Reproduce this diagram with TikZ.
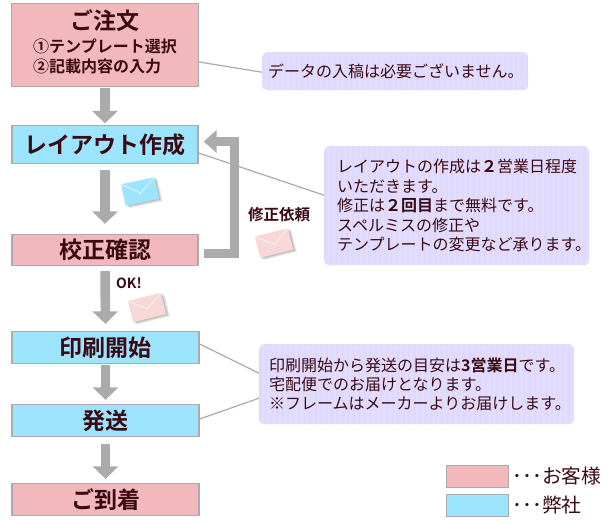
\documentclass[tikz,border=0pt]{standalone}
\usepackage{fontspec}
\setmainfont{Noto Sans CJK JP}
\newfontfamily\bfjp{Noto Sans CJK JP Bold}
\usetikzlibrary{arrows.meta,calc,positioning}
\definecolor{pinkbox}{HTML}{F2B8BB}
\definecolor{bluebox}{HTML}{9DE4FF}
\definecolor{edgegray}{HTML}{ABABAB}
\definecolor{inkdark}{HTML}{3A0A12}
\definecolor{callfill}{HTML}{E3DDFF}
\definecolor{callstripe}{HTML}{DFD9FE}
\definecolor{envpink}{HTML}{F8D7D9}
\newcommand{\mailicon}[4]{%
\begin{scope}[shift={(#1,#2)},rotate=#3]
 \foreach \o/\g in {0.07/3.2,0.09/2.2,0.11/1.2}{
  \fill[black,opacity=\o] (-17+\g,-11+\g) rectangle (17+\g,11+\g);}
 \fill[#4] (-17,-11) rectangle (17,11);
 \draw[white,line width=.7pt,opacity=.8] (-17,-11) -- (0,1.5) -- (17,-11);
\end{scope}}
\tikzset{
 x=1pt,y=-1pt,
 flowbox/.style={draw=edgegray,line width=1.3pt,text=inkdark,minimum width=#1,inner sep=0pt,font=\bfjp\fontsize{23}{26}\selectfont},
 flowbox/.default=186pt,
 callout/.style={rounded corners=5pt,fill=callfill,text=inkdark,anchor=north west,align=left,inner sep=0pt,
  path picture={\foreach \i in {0,...,56}{
    \fill[callstripe] ($(path picture bounding box.north west)+(\i*5.5,0)$) rectangle ++(2.6,140);}}},
 flow/.style={draw=edgegray,line width=9.5pt,-{Triangle[width=25pt,length=12.5pt]}},
 leader/.style={draw=edgegray,line width=1.2pt},
 legend/.style={draw=edgegray,line width=1pt,minimum width=62pt,minimum height=22pt,inner sep=0pt,anchor=north west},
 legendtext/.style={anchor=west,text=inkdark,inner sep=0pt,font=\fontsize{19.7}{21}\selectfont},
}
\begin{document}
\begin{tikzpicture}
\useasboundingbox (0,0) rectangle (610,523);
\fill[white] (0,0) rectangle (610,523);
% flow boxes
\node[flowbox=187pt,fill=pinkbox,minimum height=83pt,align=center] (order) at (105,45) {};
\node[text=inkdark,font=\bfjp\fontsize{23}{26}\selectfont] (ordertitle) at (105,21) {ご注文};
\node[text=inkdark,anchor=north,align=left,inner sep=0pt,font=\bfjp\fontsize{16}{20}\selectfont] (ordersub) at (105,39) {①テンプレート選択\\②記載内容の入力};
\node[flowbox,fill=bluebox,minimum height=38pt] (layout) at (105,144.5) {レイアウト作成};
\node[flowbox,fill=pinkbox,minimum height=31pt] (check) at (105,250) {校正確認};
\node[flowbox=187pt,fill=bluebox,minimum height=32pt] (print) at (105.5,347.5) {印刷開始};
\node[flowbox=187pt,fill=bluebox,minimum height=32pt] (ship) at (105.5,420.5) {発送};
\node[flowbox=187pt,fill=pinkbox,minimum height=32pt] (arrive) at (105.5,499.5) {ご到着};
% callouts
\node[callout,minimum width=266pt,minimum height=38pt,text width=266pt] (note1) at (262,52)
 {\hspace*{6pt}\fontsize{16}{19}\selectfont データの入稿は必要ございません。};
\node[callout,minimum width=265pt,minimum height=119pt] (note2) at (324,146)
 {\begin{minipage}[c][119pt][c]{265pt}\leftskip=13pt\fontsize{16}{19.6}\selectfont\lineskiplimit=-5pt
 レイアウトの作成は{\bfjp ２}営業日程度\\
 いただきます。\\
 修正は{\bfjp ２回目}まで無料です。\\
 スペルミスの修正や\\
 テンプレートの変更など承ります。
 \end{minipage}};
\node[callout,minimum width=315pt,minimum height=80pt] (note3) at (259,344)
 {\begin{minipage}[c][80pt][c]{315pt}\leftskip=10pt\fontsize{16}{19}\selectfont\lineskiplimit=-5pt
 印刷開始から発送の目安は{\bfjp 3営業日}です。\\
 宅配便でのお届けとなります。\\
 ※フレームはメーカーよりお届けします。
 \end{minipage}};
% leaders
\draw[leader] ([yshift=-17pt]order.east) -- ([yshift=-1pt]note1.west);
\draw[leader] ([yshift=-8.5pt]layout.east) -- ([yshift=10.5pt]note2.west);
\draw[leader] ([yshift=3.5pt]print.east) -- ([yshift=11pt]note3.west);
\draw[leader] ([yshift=1.5pt]ship.east) -- ([yshift=-14pt]note3.west);
% flow arrows
\draw[flow,shorten <=1pt,shorten >=1.5pt] (order.south) -- (layout.north);
\draw[flow,shorten <=6pt,shorten >=10pt] (layout.south) -- (check.north);
\draw[flow,shorten <=5pt,shorten >=7pt] (check.south) -- (print.north);
\draw[flow,shorten <=1pt,shorten >=4pt] (print.south) -- (ship.north);
\draw[flow,shorten <=7pt,shorten >=4pt] (ship.south) -- (arrive.north);
\draw[flow,-{Triangle[width=22pt,length=13pt]}] ([shift={(5,3.5)}]check.east) -- ++(31,0) |- ([shift={(5,-3)}]layout.east);
% mail icons
\mailicon{140}{191.5}{12}{bluebox}
\mailicon{274}{243}{14}{envpink}
\mailicon{147}{307.5}{14}{envpink}
% labels
\node[text=inkdark,inner sep=0pt,font=\bfjp\fontsize{15.5}{18}\selectfont] (fixlabel) at (279,215) {修正依頼};
\node[text=inkdark,inner sep=0pt,font=\bfjp\fontsize{14}{16}\selectfont] (oklabel) at (129,283) {OK!};
% legend
\node[legend,fill=pinkbox] (legp) at (445.5,464.5) {};
\node[legend,fill=bluebox] (legb) at (445.5,493.5) {};
\node[legendtext,right=4pt of legp] (legptext) {･･･お客様};
\node[legendtext,right=4pt of legb] (legbtext) {･･･弊社};
\end{tikzpicture}
\end{document}
